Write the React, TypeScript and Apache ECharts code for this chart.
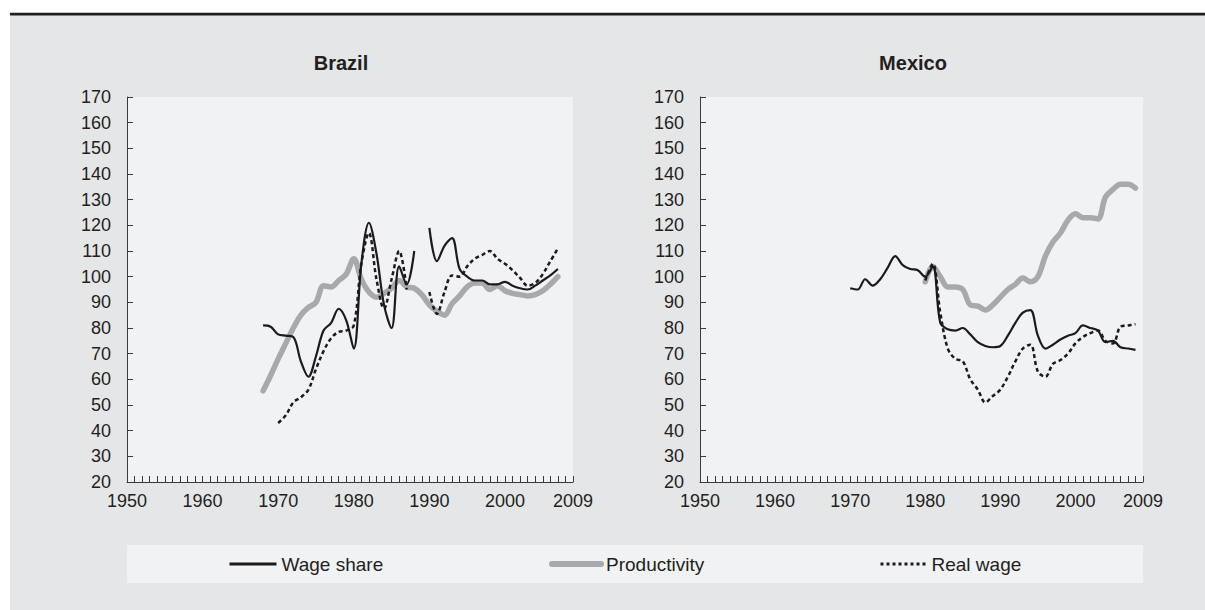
import React, { useEffect, useRef } from "react";
import * as echarts from "echarts";

const brazilYears = [1968, 1969, 1970, 1971, 1972, 1973, 1974, 1975, 1976, 1977, 1978, 1979, 1980, 1981, 1982, 1983, 1984, 1985, 1986, 1987, 1988, 1989, 1990, 1991, 1992, 1993, 1994, 1995, 1996, 1997, 1998, 1999, 2000, 2001, 2002, 2003, 2004, 2005, 2006, 2007];
const brazilWageShare = [81, 80.5, 77.5, 77, 76.5, 67, 61, 69, 79, 82, 87.5, 83, 72, 105, 121, 109, 89, 80, 104, 97, 110, null, 119, 106, 112, 115, 103, 100, 98.5, 98.5, 97, 97, 98, 96.5, 95.5, 95, 96.5, 98.5, 100.5, 103];
const brazilProductivity = [55.5, 61.5, 68, 74, 80, 85, 88, 90, 96.5, 96, 98.5, 101, 107, 99, 94, 92, 93.5, 95.5, 98.5, 96, 95.5, 93, 89, 86.5, 85, 89.5, 92.5, 96, 97.5, 97.5, 95, 96.5, 94.5, 93.5, 93, 92.5, 93, 94.5, 97, 100];
const brazilRealWage = [null, null, 43, 46, 51, 53, 56, 64, 71, 76, 78.5, 79, 81, 105, 117, 99, 87.5, 99, 110, 95, null, null, 94, 85.5, 94, 100.5, 100, 104, 107, 108.5, 110, 107, 105, 102.5, 99.5, 96.5, 97.5, 101, 106, 111];

const mexicoYears = [1970, 1971, 1972, 1973, 1974, 1975, 1976, 1977, 1978, 1979, 1980, 1981, 1982, 1983, 1984, 1985, 1986, 1987, 1988, 1989, 1990, 1991, 1992, 1993, 1994, 1995, 1996, 1997, 1998, 1999, 2000, 2001, 2002, 2003, 2004, 2005, 2006, 2007, 2008];
const mexicoWageShare = [95.5, 95, 99, 96.5, 99, 103.5, 108, 104.5, 103, 102.5, 100, 104, 82, 79.5, 79, 80, 77.5, 74.5, 73, 72.5, 73, 77, 82, 86, 87, 77, 72, 73.5, 75.5, 77, 78, 81, 80, 79, 74.5, 75, 72.5, 72, 71.5];
const mexicoProductivity = [null, null, null, null, null, null, null, null, null, null, 98, 104, 100, 96, 96, 95, 89, 88.5, 87, 89, 92, 95, 97, 99.5, 98, 100, 108, 113.5, 117, 122, 124.5, 123, 123, 122.5, 131, 134, 136, 136, 134.5];
const mexicoRealWage = [null, null, null, null, null, null, null, null, null, null, 98.5, 105, 86, 72, 68, 67, 60, 56, 51, 53.5, 56, 61, 67, 72, 73.5, 63, 61, 66, 67.5, 70, 74, 76.5, 78, 79, 75, 74, 80.5, 81, 81.5];

const panelTitles = ["Brazil", "Mexico"];
const seriesNames = ["Wage share", "Productivity", "Real wage"];
const yTickMin = 20;
const yTickMax = 170;
const xMin = 1950;
const xMax = 2009;

const FONT = "'Liberation Sans', Arial, Helvetica, sans-serif";
const DARK = "#231f20";
const GRAY_LINE = "#a7a9ac";
const AXIS = "#3a3a3a";

function pairs(years: number[], vals: (number | null)[]) {
  return years.map((y, i) => [y, vals[i] === null ? null : vals[i]]);
}

export default function App() {
  const ref = useRef<HTMLDivElement>(null);
  useEffect(() => {
    if (!ref.current) return;
    const chart = echarts.init(ref.current, undefined, { renderer: "svg" });

    const grids = [
      { left: 127, right: 1205 - 573, top: 97, bottom: 610 - 482 },
      { left: 700, right: 1205 - 1143, top: 97, bottom: 610 - 482 },
    ];

    const xAxes: any[] = [];
    const yAxes: any[] = [];
    grids.forEach((_, gi) => {
      xAxes.push({
        type: "value",
        gridIndex: gi,
        position: "bottom",
        min: xMin,
        max: xMax,
        interval: 10,
        axisLine: { show: true, onZero: false, lineStyle: { color: AXIS, width: 1 } },
        axisTick: { show: false },
        splitLine: { show: false },
        axisLabel: { fontSize: 18, fontFamily: FONT, color: DARK, margin: 10, formatter: (v: number) => String(v) },
      });
      xAxes.push({
        type: "value",
        gridIndex: gi,
        position: "bottom",
        offset: 0,
        min: xMin,
        max: xMax,
        interval: 1,
        axisLine: { show: false, onZero: false },
        axisTick: { show: true, inside: true, length: 6, lineStyle: { color: AXIS, width: 1 } },
        axisLabel: { show: false },
        splitLine: { show: false },
      });
      yAxes.push({
        type: "value",
        gridIndex: gi,
        min: yTickMin,
        max: yTickMax,
        interval: 10,
        axisLine: { show: true, onZero: false, lineStyle: { color: AXIS, width: 1 } },
        axisTick: { show: true, inside: true, length: 6, lineStyle: { color: AXIS, width: 1 } },
        splitLine: { show: false },
        axisLabel: { fontSize: 18, fontFamily: FONT, color: DARK, margin: 16 },
      });
    });

    const panels = [
      { years: brazilYears, ws: brazilWageShare, pr: brazilProductivity, rw: brazilRealWage },
      { years: mexicoYears, ws: mexicoWageShare, pr: mexicoProductivity, rw: mexicoRealWage },
    ];

    const series: any[] = [];
    panels.forEach((p, gi) => {
      series.push({
        name: seriesNames[1],
        type: "line",
        xAxisIndex: gi * 2,
        yAxisIndex: gi,
        data: pairs(p.years, p.pr),
        smooth: 0.35,
        symbol: "none",
        connectNulls: false,
        lineStyle: { color: GRAY_LINE, width: 5.5, cap: "round", join: "round" },
        itemStyle: { color: GRAY_LINE },
        z: 2,
      });
      series.push({
        name: seriesNames[0],
        type: "line",
        xAxisIndex: gi * 2,
        yAxisIndex: gi,
        data: pairs(p.years, p.ws),
        smooth: 0.35,
        symbol: "none",
        connectNulls: false,
        lineStyle: { color: "#1c1a1b", width: 2.2 },
        itemStyle: { color: "#1c1a1b" },
        z: 3,
      });
      series.push({
        name: seriesNames[2],
        type: "line",
        xAxisIndex: gi * 2,
        yAxisIndex: gi,
        data: pairs(p.years, p.rw),
        smooth: 0.35,
        symbol: "none",
        connectNulls: false,
        lineStyle: { color: "#1c1a1b", width: 2.5, type: [4, 3] },
        itemStyle: { color: "#1c1a1b" },
        z: 4,
      });
    });

    const legendPos = [
      { name: seriesNames[0], left: 228, w: 47, lineStyle: { color: "#1c1a1b", width: 3, type: "solid" } },
      { name: seriesNames[1], left: 549, w: 49, lineStyle: { color: GRAY_LINE, width: 6, type: "solid", cap: "round" } },
      { name: seriesNames[2], left: 879, w: 46, lineStyle: { color: "#1c1a1b", width: 3, type: [3, 3] } },
    ];

    const legends = legendPos.map((l) => ({
      data: [l.name],
      left: l.left,
      top: 554,
      padding: 0,
      itemWidth: l.w,
      itemHeight: 20,
      itemGap: 5,
      selectedMode: false,
      itemStyle: { opacity: 0, borderWidth: 0 },
      lineStyle: l.lineStyle,
      textStyle: { fontSize: 19, fontFamily: FONT, color: DARK, lineHeight: 20, padding: [0, 0, 0, 0] },
    }));

    const option: any = {
      animation: false,
      backgroundColor: "#ffffff",
      grid: grids.map((g) => ({ ...g, show: true, backgroundColor: "#f1f2f4", borderWidth: 0 })),
      xAxis: xAxes,
      yAxis: yAxes,
      legend: legends,
      series,
      graphic: [
        { type: "rect", z: -10, silent: true, shape: { x: 10, y: 15, width: 1195, height: 595 }, style: { fill: "#e5e6e8" } },
        { type: "rect", z: -9, silent: true, shape: { x: 10, y: 12.8, width: 1195, height: 2.6 }, style: { fill: "#231f20" } },
        { type: "rect", z: -9, silent: true, shape: { x: 127, y: 545, width: 1016, height: 38 }, style: { fill: "#f1f2f4" } },
        {
          type: "text", z: 10, x: 341, y: 63,
          style: { text: panelTitles[0], font: `bold 20px ${FONT}`, fill: DARK, align: "center", verticalAlign: "middle", textAlign: "center", textVerticalAlign: "middle" },
        },
        {
          type: "text", z: 10, x: 913, y: 63,
          style: { text: panelTitles[1], font: `bold 20px ${FONT}`, fill: DARK, align: "center", verticalAlign: "middle", textAlign: "center", textVerticalAlign: "middle" },
        },
      ],
    };
    chart.setOption(option);
    return () => chart.dispose();
  }, []);
  return <div ref={ref} style={{ position: "fixed", left: 0, top: 0, width: 1205, height: 610 }} />;
}
